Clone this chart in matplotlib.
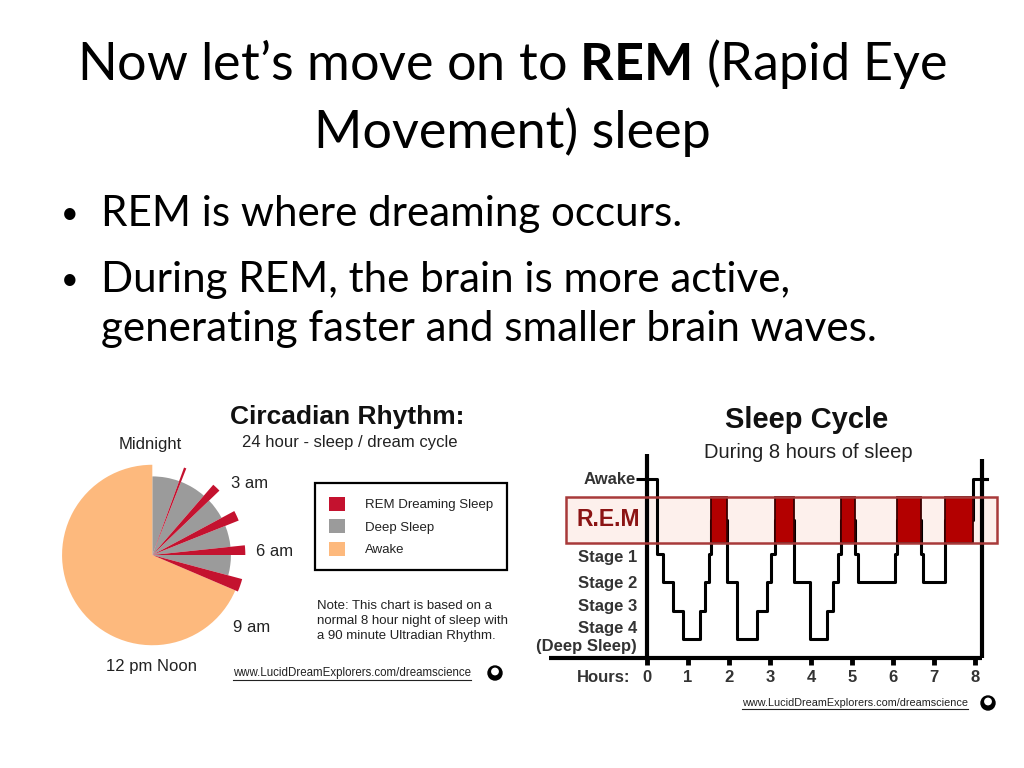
import matplotlib
matplotlib.use("Agg")
import matplotlib.pyplot as plt
from matplotlib.patches import Patch, Rectangle, Circle

# slide text
title_line1 = "Now let\u2019s move on to $\\mathbf{REM}$ (Rapid Eye"
title_line2 = "Movement) sleep"
bullet_lines = [["REM is where dreaming occurs."],
                ["During REM, the brain is more active,",
                 "generating faster and smaller brain waves."]]

# circadian pie: hours after midnight, clockwise
pie_phase = ["deep", "rem", "deep", "rem", "deep", "rem", "deep", "rem", "deep", "rem", "awake"]
pie_hours = [1.33, 0.10, 1.30, 0.35, 1.04, 0.43, 1.05, 0.40, 1.00, 0.54, 16.46]
clock_labels = ["Midnight", "3 am", "6 am", "9 am", "12 pm Noon"]
legend_labels = ["REM Dreaming Sleep", "Deep Sleep", "Awake"]
note_text = ("Note: This chart is based on a\n"
             "normal 8 hour night of sleep with\n"
             "a 90 minute Ultradian Rhythm.")
url = "www.LucidDreamExplorers.com/dreamscience"

# hypnogram (steps-post)
stage_names = ["Awake", "Stage 1", "Stage 2", "Stage 3", "Stage 4"]
stage_level = {"W": 6.28, "R": 4.85, "S1": 3.65, "S2": 2.65, "S3": 1.65, "S4": 0.65}
hyp_time = [0.00, 0.25, 0.40, 0.64, 0.88, 1.30, 1.42, 1.50, 1.56, 1.95,
            2.20, 2.69, 2.93, 3.03, 3.13, 3.59,
            3.98, 4.40, 4.54, 4.67, 4.74, 5.08,
            5.15, 6.05, 6.10, 6.69,
            6.74, 7.27, 7.96, 8.30]
hyp_stage = ["W", "S1", "S2", "S3", "S4", "S3", "S2", "S1", "R", "S2",
             "S4", "S3", "S2", "S1", "R", "S2",
             "S4", "S3", "S2", "S1", "R", "S1",
             "S2", "S1", "R", "S1",
             "S2", "R", "W", "W"]
hours = list(range(9))

RED = "#c4122f"
GRAY = "#9b9b9b"
ORANGE = "#fdb97d"
TXT = "#222222"

plt.rcParams["font.family"] = ["Liberation Sans", "DejaVu Sans"]
plt.rcParams["mathtext.fontset"] = "custom"
plt.rcParams["mathtext.rm"] = "Lato"
plt.rcParams["mathtext.bf"] = "Lato:bold"

fig = plt.figure(figsize=(10.24, 7.68), dpi=100)
fig.patch.set_facecolor("white")

# overlay in pixel coordinates for slide text
ax0 = fig.add_axes([0, 0, 1, 1])
ax0.set_xlim(0, 1024)
ax0.set_ylim(768, 0)
ax0.axis("off")

ax0.text(512, 80, title_line1, fontsize=37.5, family="Lato", ha="center", va="baseline")
ax0.text(512, 148, title_line2, fontsize=37.5, family="Lato", ha="center", va="baseline")

y_base = [226, 292, 341]
k = 0
for para in bullet_lines:
    ax0.text(70, y_base[k] - 12, "\u2022", fontsize=22, family="Lato", ha="center", va="center")
    for line in para:
        ax0.text(101, y_base[k], line, fontsize=30.3, family="Lato", ha="left", va="baseline")
        k += 1

# ---- circadian rhythm pie
axp = fig.add_axes([(152.3 - 120) / 1024, (768 - 555 - 120) / 768, 240 / 1024, 240 / 768])
axp.axis("off")
phase_color = {"deep": GRAY, "rem": RED, "awake": ORANGE}
phase_radius = {"deep": 0.845, "rem": 1.0, "awake": 0.97}
wedges, _ = axp.pie(pie_hours, colors=[phase_color[p] for p in pie_phase],
                    startangle=90, counterclock=False, radius=1,
                    wedgeprops=dict(linewidth=0))
for w, p in zip(wedges, pie_phase):
    w.set_radius(phase_radius[p])
    w.set_zorder(3 if p == "rem" else 2)
axp.set_xlim(-1.29, 1.29)
axp.set_ylim(-1.29, 1.29)

label_pos = [(150, 445), (250, 483), (275, 552), (252, 627), (152, 666)]
for lab, (x, y) in zip(clock_labels, label_pos):
    ax0.text(x, y, lab, fontsize=12, color=TXT, ha="center", va="center")

ax0.text(347, 417, "Circadian Rhythm:", fontsize=19, fontweight="bold", color="#111111",
         ha="center", va="center")
ax0.text(350, 443, "24 hour - sleep / dream cycle", fontsize=12, color=TXT,
         ha="center", va="center")

handles = [Patch(facecolor=phase_color[p]) for p in ["rem", "deep", "awake"]]
leg = fig.legend(handles, legend_labels, loc="upper left",
                 bbox_to_anchor=(315 / 1024, 1 - 483 / 768), bbox_transform=fig.transFigure,
                 fontsize=9.5, frameon=True, fancybox=False, edgecolor="black", framealpha=1,
                 handlelength=1.25, handleheight=1.25, labelspacing=0.62, borderpad=1.05,
                 handletextpad=1.5, borderaxespad=0)
leg.get_frame().set_linewidth(1.6)
for t in leg.get_texts():
    t.set_color(TXT)

ax0.text(317, 621, note_text, fontsize=9.5, color=TXT, ha="left", va="center",
         linespacing=1.35)

url_left = ax0.text(352, 673, url, fontsize=8.3, color=TXT, ha="center", va="center")

# ---- sleep cycle hypnogram
ax2 = fig.add_axes([530 / 1024, (768 - 700) / 768, 480 / 1024, 260 / 768])
ax2.set_xlim(-117 / 41, 363 / 41)
ax2.set_ylim(-42 / 28.5, 218 / 28.5)
ax2.axis("off")

band_lo, band_hi = 4.04, 5.65
ax2.add_patch(Rectangle((-1.98, band_lo), 10.52, band_hi - band_lo,
                        facecolor="#fdf0ec", edgecolor="none", zorder=1))
ax2.add_patch(Rectangle((-1.98, band_lo), 10.52, band_hi - band_lo,
                        facecolor="none", edgecolor="#a83a3a", linewidth=1.8, zorder=6))

levels = [stage_level[s] for s in hyp_stage]
ax2.plot(hyp_time, levels, drawstyle="steps-post", color="black", lw=2.2, zorder=3)

# REM blocks taken from the hypnogram
for i, s in enumerate(hyp_stage[:-1]):
    if s == "R":
        ax2.bar(hyp_time[i], band_hi - band_lo, width=hyp_time[i + 1] - hyp_time[i],
                bottom=band_lo, align="edge", color="#b30000", edgecolor="#3a0000",
                linewidth=1.3, zorder=4)

ax2.plot([0, 0], [0, 7.16], color="black", lw=3, zorder=5, solid_capstyle="butt")
ax2.plot([8.17, 8.17], [0, 6.98], color="black", lw=3, zorder=5, solid_capstyle="butt")
ax2.plot([-2.38, 8.17], [0, 0], color="black", lw=3, zorder=5, solid_capstyle="butt")
ax2.vlines(hours, -0.25, 0, color="black", lw=3.5, zorder=5)
ax2.hlines(stage_level["W"], -0.27, 0, color="black", lw=2.2, zorder=5)
ax2.hlines(stage_level["W"], 8.17, 8.31, color="black", lw=2.2, zorder=5)

stage_label_y = [6.28, 3.51, 2.63, 1.79, 1.02]
for name, y in zip(stage_names, stage_label_y):
    ax2.text(-0.27 if name == "Awake" else -0.24, y, name, fontsize=12, fontweight="bold",
             color="#333333", ha="right", va="center")
ax2.text(-0.24, 0.39, "(Deep Sleep)", fontsize=12, fontweight="bold", color="#333333",
         ha="right", va="center")
ax2.text(-0.95, stage_level["R"], "R.E.M", fontsize=16.5, fontweight="bold", color="#8b1414",
         ha="center", va="center", zorder=7)
ax2.text(-0.41, -0.67, "Hours:", fontsize=12, fontweight="bold", color="#333333",
         ha="right", va="center")
for h in hours:
    ax2.text(h, -0.67, str(h), fontsize=12, fontweight="bold", color="#333333",
             ha="center", va="center")

ax0.text(807, 420, "Sleep Cycle", fontsize=21, fontweight="bold", color="#111111",
         ha="center", va="center")
ax0.text(808, 452, "During 8 hours of sleep", fontsize=14.5, color=TXT,
         ha="center", va="center")
url_right = ax0.text(855, 703, url, fontsize=7.8, color=TXT, ha="center", va="center")

# small logo icons
for (x, y) in [(495, 673), (988, 703)]:
    ax0.add_patch(Circle((x, y), 7, color="black"))
    ax0.add_patch(Circle((x, y - 1.5), 3.2, color="white"))

# underline the urls
fig.canvas.draw()
r = fig.canvas.get_renderer()
for t in [url_left, url_right]:
    bb = t.get_window_extent(r)
    ax0.plot([bb.x0, bb.x1], [768 - bb.y0 + 0.5, 768 - bb.y0 + 0.5], color=TXT, lw=0.8)

fig.savefig("out.png", dpi=100)
